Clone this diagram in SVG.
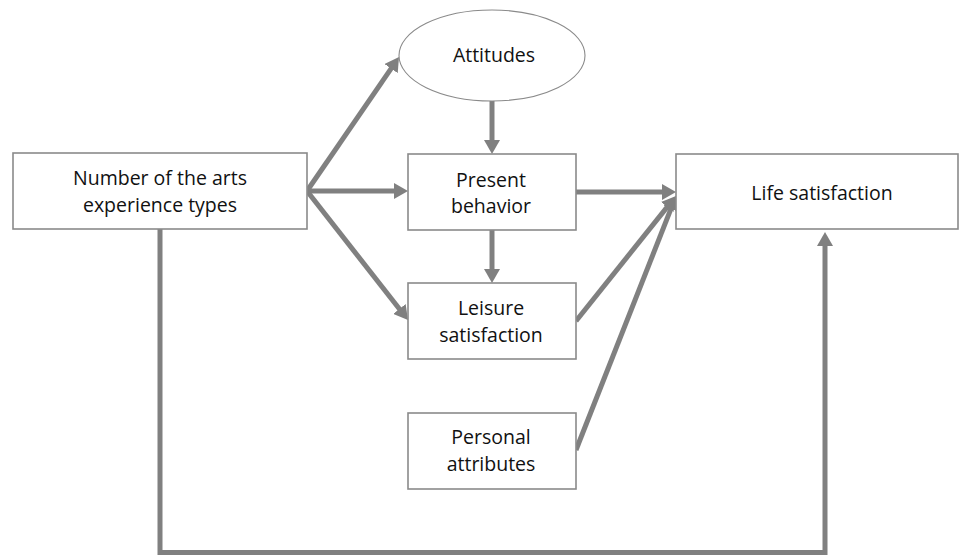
<svg xmlns="http://www.w3.org/2000/svg" width="959" height="555" viewBox="0 0 959 555">
<style>
.box{fill:#fff;stroke:#8a8a8a;stroke-width:1.6}
.ell{fill:#fff;stroke:#8a8a8a;stroke-width:1.1}
.t{font-family:"Open Sans","Liberation Sans",sans-serif;font-size:19.5px;fill:#111;text-anchor:middle}
.c{fill:none;stroke:#808080;stroke-width:5;marker-end:url(#ah)}
</style>
<defs>
<marker id="ah" viewBox="0 0 14 16" refX="3" refY="8" markerWidth="14" markerHeight="16" markerUnits="userSpaceOnUse" orient="auto">
<path d="M0,0 L14,8 L0,16 z" fill="#808080"/>
</marker>
</defs>
<rect width="959" height="555" fill="#fff"/>
<g id="connectors">
<line class="c" x1="307" y1="191" x2="392.8" y2="66.1"/>
<line class="c" x1="307" y1="191" x2="397" y2="191"/>
<line class="c" x1="307" y1="191" x2="401.2" y2="311.3"/>
<line class="c" x1="492" y1="101" x2="492" y2="143"/>
<line class="c" x1="492" y1="230" x2="492" y2="272"/>
<line class="c" x1="576" y1="192" x2="665" y2="192"/>
<line class="c" x1="576" y1="321" x2="669.1" y2="204.6"/>
<line class="c" x1="576" y1="450" x2="672" y2="206.2"/>
<path class="c" d="M160,229 V552.5 H825 V243"/>
</g>
<g id="n-number">
<rect class="box" x="13" y="153" width="294" height="76"/>
<text class="t" x="160" y="185">Number of the arts</text>
<text class="t" x="160" y="212">experience types</text>
</g>
<g id="n-attitudes">
<ellipse class="ell" cx="492" cy="55.5" rx="93" ry="45.5"/>
<text class="t" x="494" y="62">Attitudes</text>
</g>
<g id="n-present">
<rect class="box" x="408" y="154" width="168" height="76"/>
<text class="t" x="491" y="187">Present</text>
<text class="t" x="491" y="213">behavior</text>
</g>
<g id="n-leisure">
<rect class="box" x="408" y="283" width="168" height="76"/>
<text class="t" x="491" y="315">Leisure</text>
<text class="t" x="491" y="342">satisfaction</text>
</g>
<g id="n-personal">
<rect class="box" x="408" y="413" width="168" height="76"/>
<text class="t" x="491" y="444">Personal</text>
<text class="t" x="491" y="471">attributes</text>
</g>
<g id="n-life">
<rect class="box" x="676" y="154" width="282" height="75"/>
<text class="t" x="822" y="200">Life satisfaction</text>
</g>
</svg>
